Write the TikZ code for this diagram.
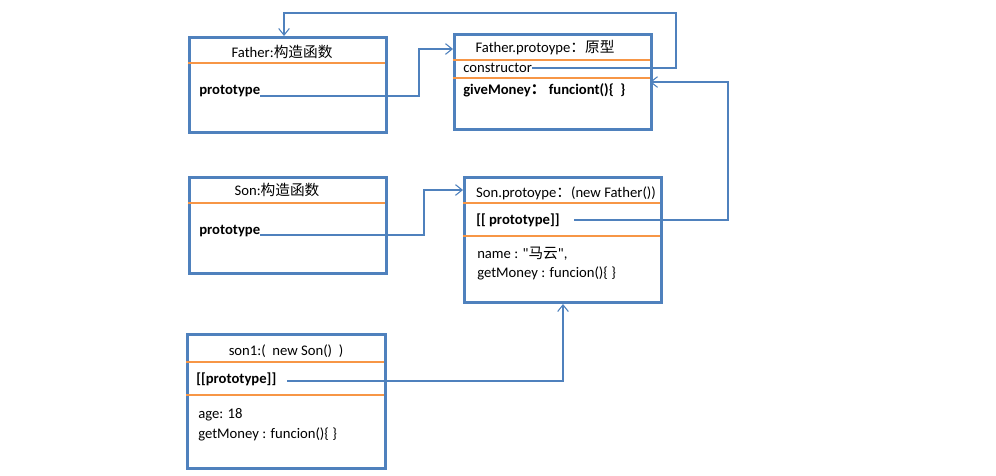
\documentclass[tikz,border=0pt]{standalone}
\usepackage{fontspec}
\setmainfont{Carlito}
\newfontfamily\cjk{Noto Sans CJK SC}
\newfontfamily\plainquote{Carlito}
\usetikzlibrary{arrows.meta}

\definecolor{boxblue}{HTML}{4F81BD}
\definecolor{lineorange}{HTML}{F79646}

\tikzset{
  box/.style={draw=boxblue, line width=2.25pt, anchor=north west, inner sep=0pt},
  divider/.style={lineorange, line width=0.8pt},
  link/.style={boxblue, line width=0.8pt, -{Straight Barb[length=5pt,width=8pt]}},
  txt/.style={anchor=west, inner sep=0pt, font=\fontsize{11}{13}\selectfont},
  boldtxt/.style={txt, font=\fontsize{11}{13}\selectfont\bfseries},
  title/.style={inner sep=0pt, font=\fontsize{11}{13}\selectfont}
}

\begin{document}
\begin{tikzpicture}[x=0.75pt, y=-0.75pt]
\useasboundingbox (0,0) rectangle (996,475);

% boxes
\node[box, minimum width=147.75pt, minimum height=71.25pt] (father) at (188,36) {};
\node[box, minimum width=147.75pt, minimum height=71.25pt] (fproto) at (453,33) {};
\node[box, minimum width=147.75pt, minimum height=72pt] (son) at (188,176) {};
\node[box, minimum width=147.75pt, minimum height=93.75pt] (sproto) at (463,176) {};
\node[box, minimum width=148.5pt, minimum height=100.5pt] (sonone) at (186,333) {};

% dividers
\draw[divider] (188,63) -- (385,63);
\draw[divider] (453,60) -- (650,60);
\draw[divider] (453,78) -- (650,78);
\draw[divider] (188,203) -- (385,203);
\draw[divider] (463,203) -- (660,203);
\draw[divider] (463,236) -- (660,236);
\draw[divider] (186,362) -- (384,362);
\draw[divider] (186,395) -- (384,395);

% texts
\node[title] (fathertitle) at (282,52) {Father:{\cjk 构造函数}};
\node[boldtxt] (fatherpt) at (199,91) {prototype};

\node[title] (fprototitle) at (545,48) {Father.protoype{\cjk ：原型}};
\node[txt] (ctor) at (463,68) {constructor};
\node[boldtxt] (give) at (463,90) {giveMoney{\cjk ：}\ funciont()\{\ \ \}};

\node[title] (sontitle) at (277,190) {Son:{\cjk 构造函数}};
\node[boldtxt] (sonpt) at (199,231) {prototype};

\node[title] (sprototitle) at (566,193) {Son.protoype{\cjk ：}(new Father())};
\node[boldtxt] (sprotopt) at (476,220) {[[ prototype]]};
\node[txt] (name) at (477,254) {name : {\plainquote "}{\cjk 马云}{\plainquote "},};
\node[txt] (sprotoget) at (477,273) {getMoney : funcion()\{ \}};

\node[title] (sononetitle) at (286,351) {son1:(\ \ new Son()\ \ )};
\node[boldtxt] (sononept) at (196,379) {[[prototype]]};
\node[txt] (age) at (198,415) {age: 18};
\node[txt] (sononeget) at (198,434) {getMoney : funcion()\{ \}};

% links
\coordinate (fprotoin) at (453,49);
\coordinate (sprotoin) at (463,190);
\coordinate (fprotoback) at (650,82);
\draw[link] ([yshift=-3.75pt]fatherpt.east) -| (419,49) -- (fprotoin);
\draw[link] (ctor.east) -- (676,68) |- (284,13) -- (father.north -| 284,0);
\draw[link] ([xshift=11pt]sprotopt.east) -| (728,82) -- (fprotoback);
\draw[link] ([yshift=-3pt]sonpt.east) -| (424,190) -- (sprotoin);
\draw[link] ([xshift=8pt,yshift=-1.5pt]sononept.east) -| (sproto.south);
\end{tikzpicture}
\end{document}
